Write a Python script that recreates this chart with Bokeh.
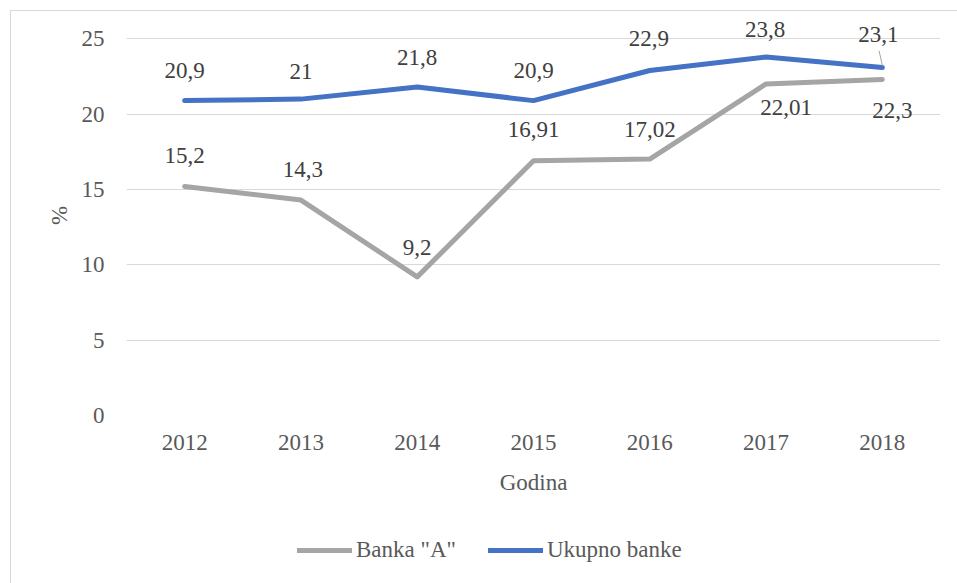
from bokeh.plotting import figure
from bokeh.models import ColumnDataSource, Legend, LegendItem, Range1d, LabelSet
from bokeh.layouts import column
from bokeh.embed import file_html
from bokeh.resources import INLINE

# ---- data ----
years = ["2012", "2013", "2014", "2015", "2016", "2017", "2018"]
banka_a = [15.2, 14.3, 9.2, 16.91, 17.02, 22.01, 22.3]
ukupno_banke = [20.9, 21.0, 21.8, 20.9, 22.9, 23.8, 23.1]
y_ticks = [0, 5, 10, 15, 20, 25]
series_names = ["Banka \"A\"", "Ukupno banke"]

# ---- label placement (screen px, + is up / right) ----
banka_dx = [0, 2, 0, 0, 0, 20, 10]
banka_dy = [31, 31, 29, 31, 30, -24, -31]
ukupno_dx = [0, 0, 0, 0, -1, -1, -4]
ukupno_dy = [30, 28, 30, 30, 32, 27, 33]

FONT = "Liberation Serif"
GRAY = "#a5a5a5"
BLUE = "#4472c4"

def fmt(v):
    return f"{v:g}".replace(".", ",")

src_a = ColumnDataSource(dict(x=years, y=banka_a, t=[fmt(v) for v in banka_a],
                              dx=banka_dx, dy=banka_dy))
src_u = ColumnDataSource(dict(x=years, y=ukupno_banke, t=[fmt(v) for v in ukupno_banke],
                              dx=ukupno_dx, dy=ukupno_dy))

# frame extends a little above 25 so the top labels are not clipped
p = figure(x_range=years, y_range=Range1d(0, 26.55), width=946, height=500,
           output_backend="svg", toolbar_location=None,
           min_border_left=115, min_border_right=17, min_border_top=4, min_border_bottom=96)
p.outline_line_color = None
p.background_fill_color = "white"
p.border_fill_color = "white"

p.line("x", "y", source=src_a, line_color=GRAY, line_width=5,
       line_cap="round", line_join="round")
p.line("x", "y", source=src_u, line_color=BLUE, line_width=5,
       line_cap="round", line_join="round")

for src in (src_a, src_u):
    p.add_layout(LabelSet(x="x", y="y", text="t", source=src, x_offset="dx", y_offset="dy",
                          text_font=FONT, text_font_size="23px", text_color="#404040",
                          text_align="center", text_baseline="middle"))

# leader line for last Ukupno label
last = ukupno_banke[-1]
p.segment(x0=[(years[-1], -0.028)], y0=[last + 1.1], x1=[(years[-1], 0.0)], y1=[last + 0.12],
          line_color="#a6a6a6", line_width=1)

# axes
p.xgrid.grid_line_color = None
p.ygrid.grid_line_color = "#d9d9d9"
p.ygrid.grid_line_width = 1
p.yaxis.ticker = y_ticks
for ax in (p.xaxis[0], p.yaxis[0]):
    ax.axis_line_color = None
    ax.major_tick_line_color = None
    ax.minor_tick_line_color = None
    ax.major_label_text_font = FONT
    ax.major_label_text_font_size = "23px"
    ax.major_label_text_color = "#595959"
    ax.axis_label_text_font = FONT
    ax.axis_label_text_font_size = "23px"
    ax.axis_label_text_color = "#595959"
    ax.axis_label_text_font_style = "normal"
p.xaxis.axis_label = "Godina"
p.yaxis.axis_label = "%"
p.xaxis.major_label_standoff = 13
p.yaxis.major_label_standoff = 16
p.xaxis.axis_label_standoff = 17
p.yaxis.axis_label_standoff = 7

# ---- legend strip (series drawn off-range; only the legend shows) ----
pl = figure(width=946, height=72, x_range=years, y_range=Range1d(100, 101),
            output_backend="svg", toolbar_location=None,
            min_border_left=0, min_border_right=0, min_border_top=0, min_border_bottom=0,
            x_axis_type=None, y_axis_type=None)
pl.outline_line_color = None
pl.xgrid.grid_line_color = None
pl.ygrid.grid_line_color = None
pl.background_fill_color = "white"
pl.border_fill_color = "white"
la = pl.line("x", "y", source=src_a, line_color=GRAY, line_width=5, line_cap="round")
lu = pl.line("x", "y", source=src_u, line_color=BLUE, line_width=5, line_cap="round")
legend = Legend(items=[LegendItem(label=series_names[0], renderers=[la]),
                       LegendItem(label=series_names[1], renderers=[lu])],
                orientation="horizontal", location=(171, 20),
                glyph_width=55, glyph_height=20, label_standoff=4, spacing=32,
                padding=0, margin=0, border_line_color=None, background_fill_alpha=0,
                label_text_font=FONT, label_text_font_size="23px",
                label_text_color="#595959")
pl.add_layout(legend, "center")

layout = column(p, pl, spacing=0)
layout.styles = {"margin-left": "10px", "margin-top": "10px",
                 "border-left": "1px solid #d9d9d9", "border-top": "1px solid #d9d9d9"}

open("out.html", "w").write(file_html(layout, INLINE))
